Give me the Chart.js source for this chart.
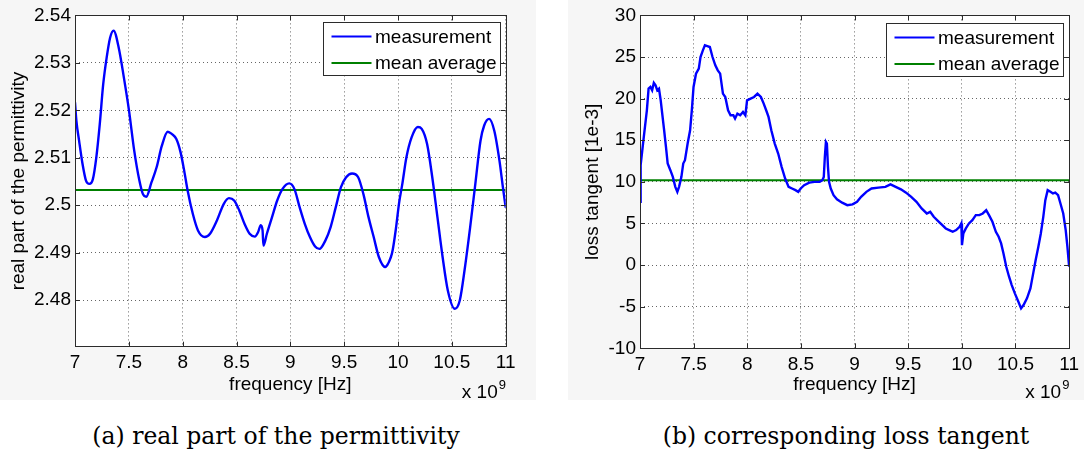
<!DOCTYPE html>
<html>
<head>
<meta charset="utf-8">
<script src="https://cdn.jsdelivr.net/npm/chart.js@4.4.1/dist/chart.umd.min.js"></script>
<style>
  html, body { margin: 0; padding: 0; background: #fff; }
  body { width: 1084px; height: 457px; position: relative; overflow: hidden; }
  canvas { position: absolute; top: 0; }
  #permCanvas { left: 0; }
  #lossCanvas { left: 568px; }
  .caption {
    position: absolute; top: 421px; line-height: 30px;
    font-family: "DejaVu Serif", serif; font-size: 23.5px; color: #000;
    white-space: nowrap; transform: translateX(-50%);
  }
</style>
</head>
<body>
<canvas id="permCanvas" width="536" height="400"></canvas>
<canvas id="lossCanvas" width="516" height="400"></canvas>
<div class="caption" style="left:276px">(a) real part of the permittivity</div>
<div class="caption" style="left:846px">(b) corresponding loss tangent</div>
<script>
// ---- data (frequency in units of 1e9 Hz) ----
const freqTicks = [7, 7.5, 8, 8.5, 9, 9.5, 10, 10.5, 11];
const permTicks = [2.48, 2.49, 2.50, 2.51, 2.52, 2.53, 2.54];
const lossTicks = [-10, -5, 0, 5, 10, 15, 20, 25, 30];
const seriesLabels = ['measurement', 'mean average'];

const permFreq = [
  7.000, 7.013, 7.038, 7.070, 7.102, 7.134, 7.166, 7.198, 7.230, 7.262, 7.294, 7.326, 7.358,
  7.406, 7.454, 7.502, 7.550, 7.598, 7.630, 7.662, 7.710, 7.758, 7.806, 7.861, 7.900, 7.940,
  7.980, 8.014, 8.046, 8.094, 8.142, 8.206, 8.254, 8.318, 8.382, 8.430, 8.478, 8.526, 8.574,
  8.622, 8.670, 8.700, 8.725, 8.742, 8.750, 8.782, 8.830, 8.878, 8.926, 8.990, 9.038, 9.086,
  9.134, 9.182, 9.230, 9.270, 9.326, 9.374, 9.422, 9.470, 9.518, 9.573, 9.630, 9.678, 9.726,
  9.774, 9.822, 9.880, 9.934, 9.950, 9.980, 10.010, 10.040, 10.078, 10.126, 10.184, 10.220,
  10.270, 10.318, 10.366, 10.414, 10.462, 10.527, 10.574, 10.622, 10.670, 10.718, 10.766,
  10.800, 10.846, 10.894, 10.942, 10.974, 11.000
];
const permValues = [
  2.5217, 2.5178, 2.5136, 2.5087, 2.5052, 2.5045, 2.5055, 2.5101, 2.5171, 2.5255, 2.5311, 2.5353, 2.5368,
  2.5332, 2.5269, 2.5199, 2.5115, 2.5052, 2.5024, 2.5018, 2.5048, 2.5080, 2.5125, 2.5155, 2.5150, 2.5140,
  2.5112, 2.5073, 2.5031, 2.4982, 2.4947, 2.4933, 2.4940, 2.4968, 2.5003, 2.5015, 2.5010, 2.4989, 2.4961,
  2.4940, 2.4934, 2.4943, 2.4958, 2.4947, 2.4915, 2.4940, 2.4975, 2.5010, 2.5034, 2.5046, 2.5034, 2.4996,
  2.4961, 2.4933, 2.4913, 2.4908, 2.4926, 2.4954, 2.4996, 2.5038, 2.5059, 2.5067, 2.5059, 2.5024, 2.4975,
  2.4933, 2.4891, 2.4870, 2.4891, 2.4905, 2.4950, 2.5005, 2.5045, 2.5101, 2.5143, 2.5165, 2.5161,
  2.5129, 2.5059, 2.4975, 2.4891, 2.4821, 2.4782, 2.4800, 2.4870, 2.4954, 2.5045, 2.5136,
  2.5168, 2.5182, 2.5157, 2.5094, 2.5038, 2.4995
];
const permMean = 2.5032;

const lossFreq = [
  7.000, 7.006, 7.032, 7.064, 7.080, 7.097, 7.113, 7.129, 7.145, 7.161, 7.177, 7.193, 7.209,
  7.225, 7.242, 7.258, 7.283, 7.306, 7.329, 7.348, 7.364, 7.386, 7.403, 7.419, 7.444, 7.467,
  7.483, 7.499, 7.522, 7.548, 7.564, 7.586, 7.605, 7.628, 7.651, 7.676, 7.702, 7.725, 7.747,
  7.773, 7.795, 7.821, 7.844, 7.870, 7.886, 7.908, 7.934, 7.960, 7.982, 7.998, 8.031, 8.063,
  8.095, 8.127, 8.153, 8.176, 8.198, 8.224, 8.256, 8.288, 8.320, 8.353, 8.385, 8.417, 8.449,
  8.475, 8.498, 8.530, 8.578, 8.626, 8.675, 8.700, 8.713, 8.723, 8.733, 8.742, 8.752, 8.762,
  8.778, 8.804, 8.836, 8.884, 8.932, 8.981, 9.023, 9.061, 9.110, 9.158, 9.222, 9.287, 9.335,
  9.383, 9.432, 9.480, 9.528, 9.577, 9.625, 9.673, 9.705, 9.738, 9.786, 9.818, 9.850, 9.882,
  9.915, 9.947, 9.979, 9.995, 10.001, 10.014, 10.037, 10.066, 10.098, 10.130, 10.163, 10.195,
  10.227, 10.253, 10.285, 10.317, 10.343, 10.366, 10.388, 10.414, 10.440, 10.465, 10.494,
  10.527, 10.552, 10.575, 10.607, 10.639, 10.665, 10.688, 10.713, 10.736, 10.759, 10.778,
  10.800, 10.826, 10.849, 10.871, 10.897, 10.919, 10.945, 10.968, 10.984, 11.000
];
const lossValues = [
  7.6, 12.0, 15.0, 18.6, 21.2, 21.4, 21.0, 21.9, 21.6, 21.0, 21.2, 19.8, 18.0,
  16.2, 14.2, 12.2, 11.4, 10.6, 9.4, 8.8, 9.4, 10.6, 12.2, 12.6, 14.6, 16.2,
  18.6, 21.4, 23.0, 23.6, 25.0, 25.8, 26.4, 26.3, 26.2, 25.0, 24.0, 23.4, 23.0,
  20.6, 20.2, 18.6, 18.0, 18.0, 17.6, 18.2, 18.0, 18.4, 18.0, 19.8, 20.0, 20.2,
  20.6, 20.2, 19.4, 18.6, 17.8, 16.2, 14.6, 13.4, 11.8, 10.4, 9.4, 9.2, 9.0,
  8.8, 9.2, 9.6, 9.9, 10.0, 10.0, 10.2, 10.6, 13.0, 14.8, 14.6, 11.8, 10.0,
  9.2, 8.4, 7.9, 7.5, 7.2, 7.3, 7.6, 8.2, 8.8, 9.2, 9.3, 9.4, 9.7,
  9.4, 9.1, 8.7, 8.2, 7.6, 6.8, 6.2, 6.4, 5.8, 5.2, 4.8, 4.4, 4.2,
  4.0, 4.2, 4.6, 5.0, 2.4, 3.8, 4.4, 5.0, 5.4, 6.0, 6.0, 6.2,
  6.6, 6.0, 5.2, 4.0, 3.4, 2.6, 1.4, -0.2, -1.4, -2.4, -3.4,
  -4.4, -5.2, -4.8, -4.0, -2.8, -1.0, 0.6, 2.2, 3.8, 5.8, 7.8,
  9.0, 8.8, 8.6, 8.7, 8.4, 7.4, 6.2, 4.2, 2.2, -0.2
];
const lossMean = 10.18;

// ---- shared styling ----
const FONT = { family: '"Liberation Sans", Arial, sans-serif', size: 19 };
const BLUE = '#0000ff';
const GREEN = '#008000';

const pairs = (xs, ys) => xs.map((x, i) => ({ x, y: ys[i] }));

// axis box, inward tick marks, boxed legend and the x10^9 exponent
const framePlugin = {
  id: 'frame',
  beforeDraw(chart, args, o) {
    const { ctx, chartArea: a, width, height } = chart;
    ctx.save();
    ctx.fillStyle = o.figureColor;
    ctx.fillRect(0, 0, width, height);
    ctx.fillStyle = '#ffffff';
    ctx.fillRect(a.left, a.top, a.right - a.left, a.bottom - a.top);
    ctx.restore();
  },
  afterDraw(chart, args, o) {
    const { ctx, chartArea: a, scales } = chart;
    ctx.save();
    ctx.strokeStyle = '#2b2b2b';
    ctx.lineWidth = 1;
    // inward ticks
    const tl = 5;
    ctx.beginPath();
    scales.x.ticks.forEach(t => {
      const px = Math.round(scales.x.getPixelForValue(t.value)) + 0.5;
      ctx.moveTo(px, a.bottom); ctx.lineTo(px, a.bottom - tl);
      ctx.moveTo(px, a.top); ctx.lineTo(px, a.top + tl);
    });
    scales.y.ticks.forEach(t => {
      const py = Math.round(scales.y.getPixelForValue(t.value)) + 0.5;
      ctx.moveTo(a.left, py); ctx.lineTo(a.left + tl, py);
      ctx.moveTo(a.right, py); ctx.lineTo(a.right - tl, py);
    });
    ctx.stroke();
    // axis box
    ctx.strokeRect(Math.round(a.left) + 0.5, Math.round(a.top) + 0.5,
                   Math.round(a.right - a.left), Math.round(a.bottom - a.top));

    // legend
    const bx = Math.round(a.right - o.legendOffsetRight - 177) + 0.5;
    const by = Math.round(a.top + o.legendOffsetTop) + 0.5;
    ctx.fillStyle = '#ffffff';
    ctx.fillRect(bx, by, 177, 53);
    ctx.strokeStyle = '#2b2b2b';
    ctx.strokeRect(bx, by, 177, 53);
    ctx.font = `${FONT.size}px ${FONT.family}`;
    ctx.textBaseline = 'middle';
    ctx.textAlign = 'left';
    chart.data.datasets.forEach((ds, i) => {
      const ry = by + 14 + i * 26.5;
      ctx.strokeStyle = ds.borderColor;
      ctx.lineWidth = 2;
      ctx.beginPath();
      ctx.moveTo(bx + 8, ry); ctx.lineTo(bx + 48, ry);
      ctx.stroke();
      ctx.fillStyle = '#000';
      ctx.fillText(ds.label, bx + 51.5, ry + 1);
    });

    // exponent label under the x axis
    ctx.fillStyle = '#000';
    ctx.textBaseline = 'alphabetic';
    ctx.textAlign = 'right';
    ctx.fillText('x 10', a.right - 8, 398);
    ctx.textAlign = 'left';
    ctx.font = `13px ${FONT.family}`;
    ctx.fillText('9', a.right - 7, 389);
    ctx.restore();
  }
};

function makeChart(canvasId, cfg) {
  return new Chart(document.getElementById(canvasId), {
    type: 'line',
    data: {
      datasets: [
        {
          label: seriesLabels[0],
          data: pairs(cfg.freq, cfg.values),
          borderColor: BLUE, borderWidth: 2.4, pointRadius: 0,
          cubicInterpolationMode: cfg.smooth ? 'monotone' : 'default', tension: 0,
          fill: false
        },
        {
          label: seriesLabels[1],
          data: [{ x: freqTicks[0], y: cfg.mean }, { x: freqTicks[freqTicks.length - 1], y: cfg.mean }],
          borderColor: GREEN, borderWidth: 2, pointRadius: 0, fill: false
        }
      ]
    },
    options: {
      responsive: false,
      animation: false,
      devicePixelRatio: 1,
      layout: { padding: cfg.padding },
      plugins: {
        legend: { display: false },
        tooltip: { enabled: false },
        frame: {
          figureColor: '#f6f6f6',
          legendOffsetRight: cfg.legendRight,
          legendOffsetTop: cfg.legendTop
        }
      },
      scales: {
        x: {
          type: 'linear', min: 7, max: 11,
          afterBuildTicks(s) { s.ticks = freqTicks.map(v => ({ value: v })); },
          afterFit(s) { s.height = cfg.xHeight; },
          grid: { color: 'rgba(0,0,0,0.6)', lineWidth: 1, drawTicks: false },
          border: { display: false, dash: [1, 3] },
          ticks: { font: FONT, color: '#000', padding: 5, maxRotation: 0, autoSkip: false,
                   callback: v => String(v) },
          title: { display: true, text: 'frequency [Hz]', font: FONT, color: '#000',
                   padding: { top: 0, bottom: 3.6 } }
        },
        y: {
          type: 'linear', min: cfg.yMin, max: cfg.yMax,
          afterBuildTicks(s) { s.ticks = cfg.yTicks.map(v => ({ value: v })); },
          afterFit(s) { s.width = cfg.yWidth; },
          grid: { color: 'rgba(0,0,0,0.6)', lineWidth: 1, drawTicks: false },
          border: { display: false, dash: [1, 3] },
          ticks: { font: FONT, color: '#000', padding: 4, autoSkip: false,
                   callback: v => String(+Number(v).toFixed(2)) },
          title: { display: true, text: cfg.yTitle, font: FONT, color: '#000',
                   padding: { top: cfg.yTitlePad, bottom: 0 } }
        }
      }
    },
    plugins: [framePlugin]
  });
}

makeChart('permCanvas', {
  freq: permFreq, values: permValues, mean: permMean, smooth: true,
  yMin: 2.4702, yMax: 2.54, yTicks: permTicks,
  yTitle: 'real part of the permittivity', yTitlePad: 7,
  padding: { left: 0, top: 14, right: 30.3, bottom: 0 },
  yWidth: 75, xHeight: 53.3, legendRight: 5.7, legendTop: 7
});

makeChart('lossCanvas', {
  freq: lossFreq, values: lossValues, mean: lossMean, smooth: false,
  yMin: -10, yMax: 30, yTicks: lossTicks,
  yTitle: 'loss tangent [1e-3]', yTitlePad: 13.6,
  padding: { left: 0, top: 15, right: 12, bottom: 0 },
  yWidth: 72, xHeight: 51.7, legendRight: 6, legendTop: 7.7
});
</script>
</body>
</html>
